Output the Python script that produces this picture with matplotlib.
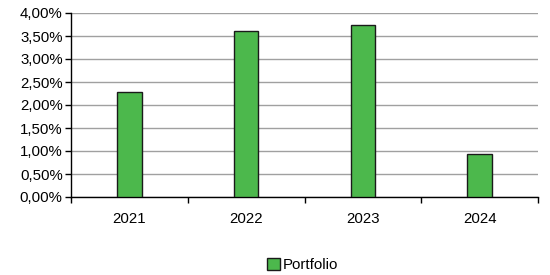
import matplotlib
matplotlib.use("Agg")
import matplotlib.pyplot as plt
from matplotlib.ticker import FuncFormatter, FixedLocator
import numpy as np

years = ["2021", "2022", "2023", "2024"]
portfolio = [2.28, 3.615, 3.74, 0.935]
series_name = "Portfolio"

plt.rcParams["font.family"] = ["Liberation Sans", "DejaVu Sans"]

fig = plt.figure(figsize=(5.5, 2.75), dpi=100)
ax = fig.add_axes([71 / 550, 1 - 197 / 275, (538 - 71) / 550, (197 - 13) / 275])

x = np.arange(len(years))
ax.bar(x, portfolio, width=0.21, color="#4cb84c", edgecolor="#1a1a1a", linewidth=1.0,
       label=series_name, zorder=3)

ax.set_xlim(-0.5, len(years) - 0.5)
ax.set_ylim(0, 4.0)
ax.set_yticks(np.arange(0, 4.01, 0.5))
ax.yaxis.set_major_formatter(FuncFormatter(lambda v, p: f"{v:.2f}%".replace(".", ",")))
ax.yaxis.grid(True, color="#a0a0a0", linewidth=1.0, zorder=0)

ax.set_xticks(x)
ax.set_xticklabels(years)
ax.tick_params(axis="x", which="major", length=0, pad=11, labelsize=10.8)
ax.xaxis.set_minor_locator(FixedLocator(np.arange(-0.5, len(years), 1.0)))
ax.tick_params(axis="x", which="minor", length=4, direction="out", width=1)
ax.tick_params(axis="y", length=4, direction="out", width=1, labelsize=10.8, pad=2)

for s in ["top", "right"]:
    ax.spines[s].set_visible(False)
for s in ["left", "bottom"]:
    ax.spines[s].set_color("black")
    ax.spines[s].set_linewidth(1.0)

fig.legend(loc="center", bbox_to_anchor=(0.55, 1 - 265 / 275), frameon=False,
           fontsize=10.8, handlelength=0.85, handleheight=0.85, handletextpad=0.2)

fig.savefig("out.png", dpi=100)
